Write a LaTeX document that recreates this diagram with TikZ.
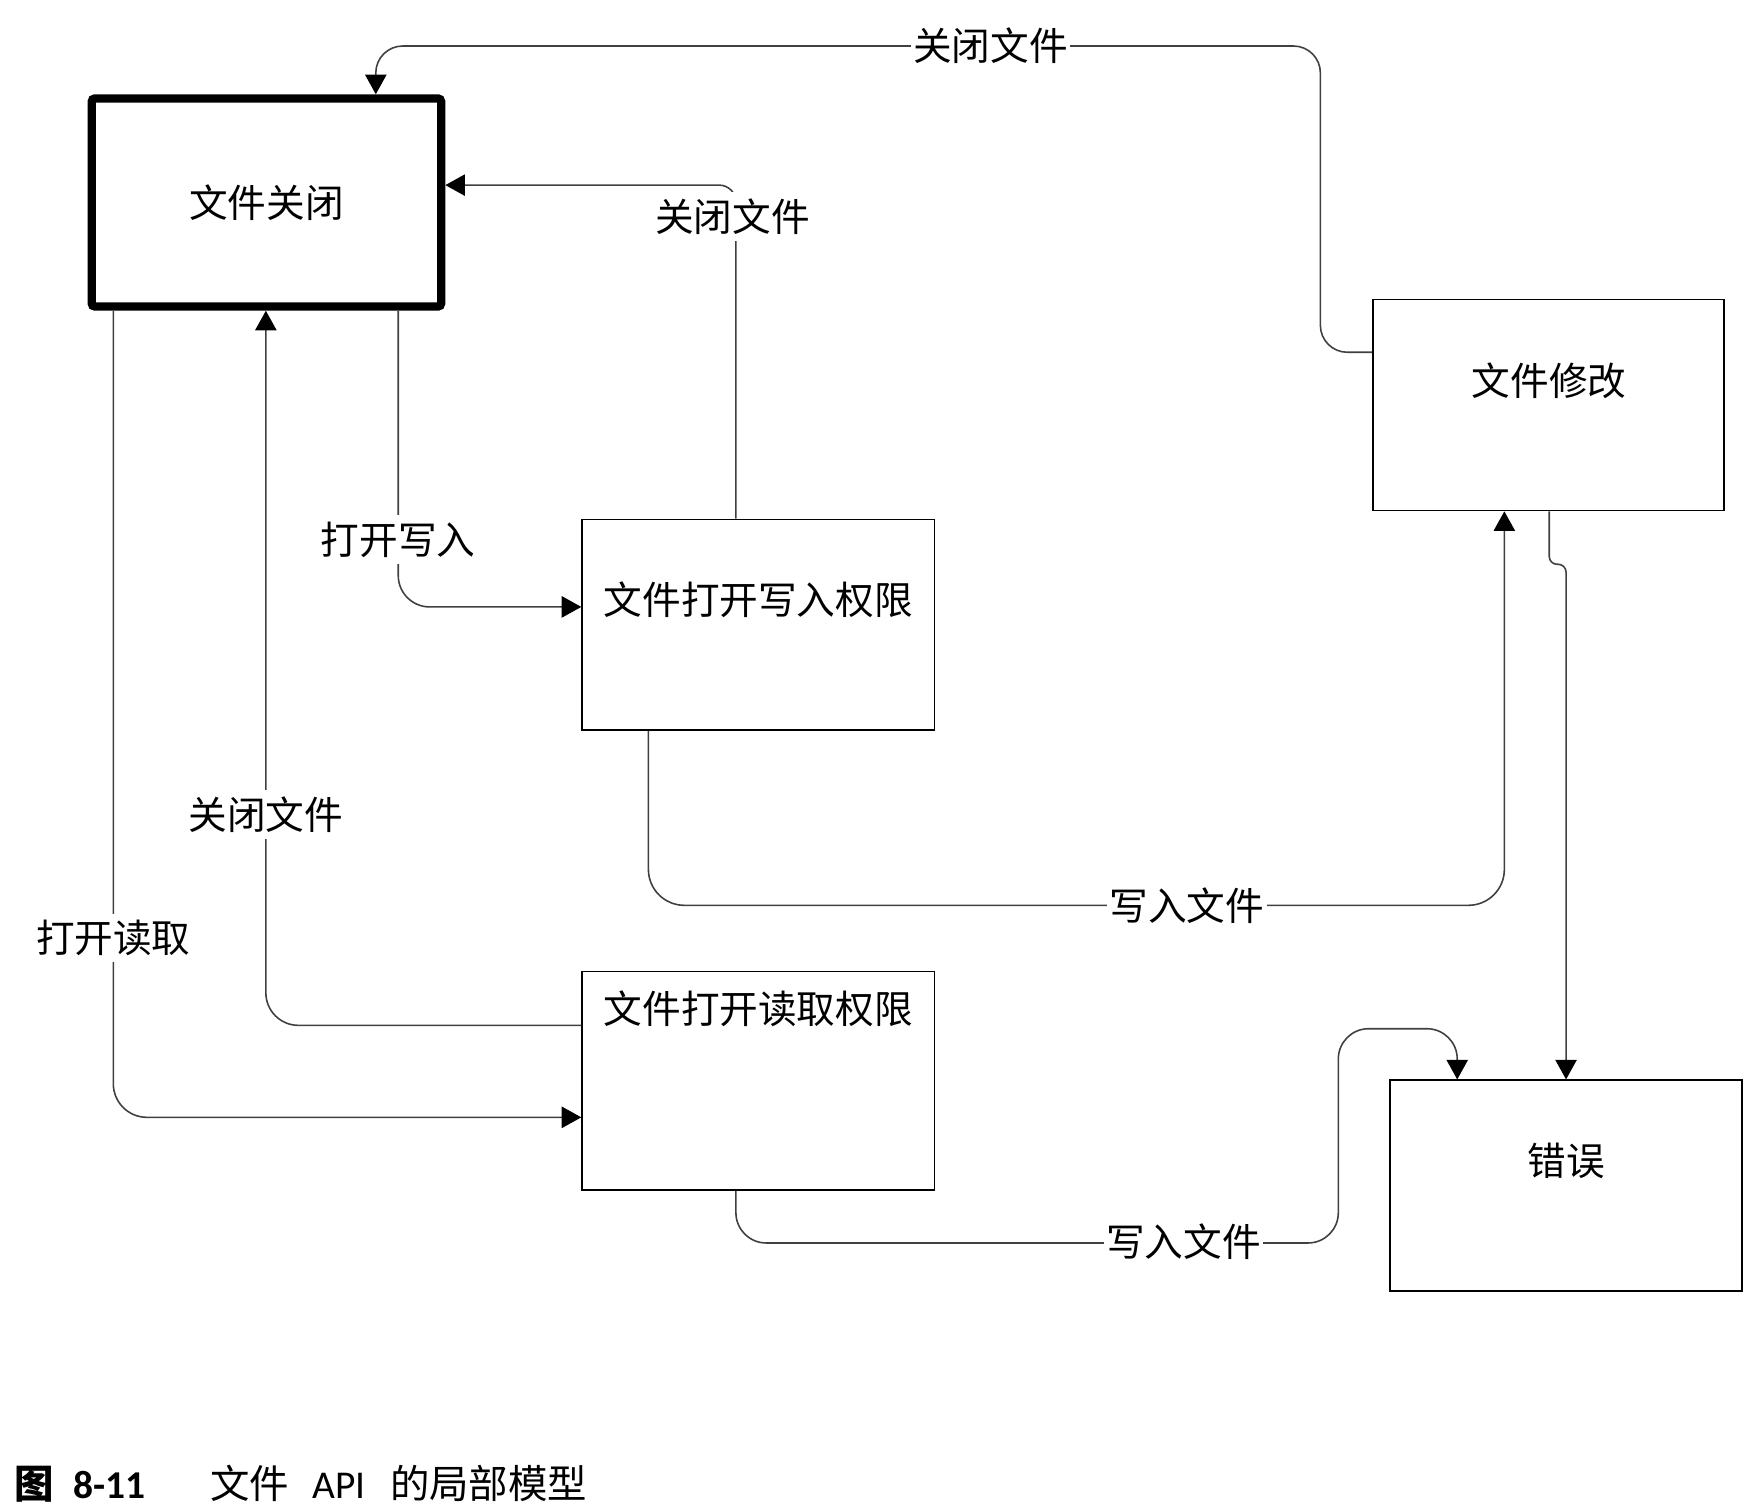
\documentclass[tikz,border=0pt]{standalone}
\usepackage{fontspec}
\setmainfont{Carlito}
\newfontfamily\cjk{Noto Sans CJK SC}
\usetikzlibrary{arrows.meta}
\tikzset{
  conn/.style={draw=black!75, line width=0.4pt, rounded corners=2.6mm},
  arr/.style={-{Triangle[length=1.75mm,width=1.9mm,color=black]}},
  box/.style={draw=black, line width=0.45pt, inner sep=0pt},
  bigbox/.style={draw=black, line width=2.1pt, rounded corners=0.3mm, inner sep=0pt, font=\cjk\fontsize{9.8}{10}\selectfont},
  lbl/.style={fill=white, inner xsep=0.6pt, inner ysep=1.6pt, font=\cjk\fontsize{9.8}{10}\selectfont},
  btxt/.style={inner sep=0pt, font=\cjk\fontsize{9.8}{10}\selectfont},
  captxt/.style={inner sep=0pt, anchor=base west, font=\fontsize{10}{12}\selectfont},
}
\begin{document}
\begin{tikzpicture}[x=0.1mm,y=-0.1mm]
\useasboundingbox (0,0) rectangle (1568,1343);
\fill[white] (0,0) rectangle (1568,1343);

% boxes
\node[bigbox, minimum width=31.16mm, minimum height=18.56mm] (A) at (237.5,180.5) {文件关闭};
\node[box, minimum width=31.4mm, minimum height=18.8mm] (B) at (676,557) {};
\node[box, minimum width=31.4mm, minimum height=19.5mm] (C) at (676,963.5) {};
\node[box, minimum width=31.3mm, minimum height=18.8mm] (D) at (1380.5,361) {};
\node[box, minimum width=31.4mm, minimum height=18.8mm] (E) at (1396,1057) {};

\node[btxt] (Bt) at (676,535) {文件打开写入权限};
\node[btxt] (Ct) at (676,899) {文件打开读取权限};
\node[btxt] (Dt) at (1381,339) {文件修改};
\node[btxt] (Et) at (1396,1035) {错误};

% connectors
\draw[conn,arr,rounded corners=2.4mm] (D.west |- 0,314) -- (1177,314) -- (1177,41) -- (335,41) -- (A.north -| 335,0);
\draw[conn,arr,rounded corners=1.5mm] (B.north -| 656,0) -- (656,165) -- (A.east |- 0,165);
\draw[conn,arr,rounded corners=2.8mm] (A.south -| 355,0) -- (355,541) -- (B.west |- 0,541);
\draw[conn,arr,rounded corners=2.9mm] (C.west |- 0,914) -- (237,914) -- (A.south -| 237,0);
\draw[conn,arr,rounded corners=3mm] (A.south -| 101,0) -- (101,996) -- (C.west |- 0,996);
\draw[conn,arr,rounded corners=3.2mm] (B.south -| 578,0) -- (578,807) -- (1341,807) -- (D.south -| 1341,0);
\draw[conn,arr,rounded corners=0.7mm] (D.south -| 1381,0) -- (1381,503) -- (1396,503) -- (E.north -| 1396,0);
\draw[conn,arr,rounded corners=2.7mm] (C.south -| 656,0) -- (656,1108) -- (1193,1108) -- (1193,917) -- (1299,917) -- (E.north -| 1299,0);

% connector labels
\node[lbl] (l1) at (883,41) {关闭文件};
\node[lbl] (l2) at (653,193) {关闭文件};
\node[lbl] (l3) at (355,481) {打开写入};
\node[lbl] (l4) at (237,726) {关闭文件};
\node[lbl] (l5) at (101,836) {打开读取};
\node[lbl] (l6) at (1058,807) {写入文件};
\node[lbl] (l7) at (1055,1107) {写入文件};

% caption
\node[captxt] (c1) at (12,1336) {\cjk\bfseries 图};
\node[captxt] (c2) at (65,1336) {\bfseries 8-11};
\node[captxt] (c3) at (187,1336) {\cjk 文件};
\node[captxt] (c4) at (278,1336) {API};
\node[captxt] (c5) at (347,1336) {\cjk 的局部模型};
\end{tikzpicture}
\end{document}
